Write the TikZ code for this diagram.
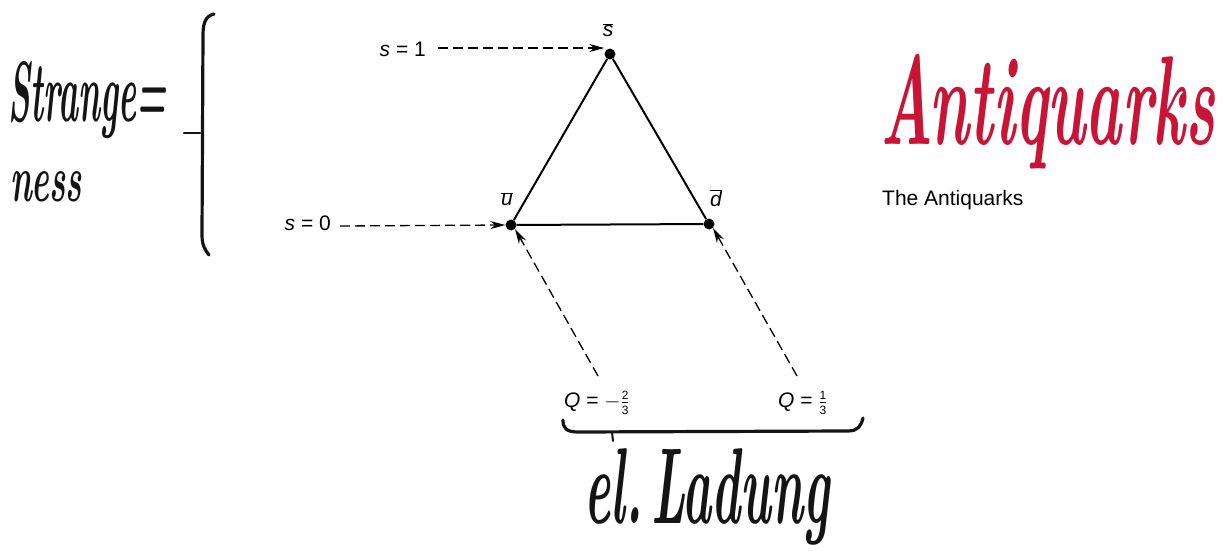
\documentclass[tikz,border=0pt]{standalone}
\usepackage{fontspec}
\usepackage{graphicx}
\setsansfont{Liberation Sans}
\usetikzlibrary{arrows.meta}
\definecolor{hand}{RGB}{20,20,20}
\definecolor{redhand}{RGB}{200,20,55}
\newcommand{\fracdig}[1]{\mbox{\sffamily\fontsize{12}{12}\selectfont #1}}
\tikzset{
  lbl/.style={font=\sffamily\fontsize{21}{24}\selectfont, inner sep=0pt},
  dot/.style={circle, fill=black, minimum size=11pt, inner sep=0pt},
  dasharrow/.style={dashed, dash pattern=on 10pt off 5pt, line width=1.3pt, -{Stealth[length=15pt,width=8pt]}},
  edge/.style={line width=2pt},
  handw/.style={inner sep=0pt, text=hand, font=\bfseries\itshape},
  pen/.style={line width=3.2pt, hand, line cap=round, line join=round}
}
\begin{document}
\begin{tikzpicture}[x=1pt,y=-1pt]
\useasboundingbox (0,0) rectangle (1224,551);
% triangle vertices
\node[dot] (sb) at (610,54) {};
\node[dot] (ub) at (511,225) {};
\node[dot] (db) at (709,224) {};
\draw[edge] (sb) -- (ub) -- (db) -- (sb);
% vertex labels
\node[lbl] (lsb) at (608,30) {$\overline{\mbox{\sffamily\itshape s}}$};
\node[lbl] (lub) at (507,199) {$\overline{\mbox{\sffamily\itshape u}}$};
\node[lbl] (ldb) at (716,198) {$\overline{\mbox{\sffamily\itshape d}}$};
% strangeness labels
\node[lbl, anchor=east] (s1) at (426,49) {\itshape s\upshape\ = 1};
\node[lbl, anchor=east] (s0) at (331,223) {\itshape s\upshape\ = 0};
\draw[dasharrow] (s1.east) ++(12,-1) coordinate (s1a) (s1a) -- (sb.west |- s1a) ;
\draw[dasharrow] (s0.east) ++(9,3) coordinate (s0a) (s0a) -- (ub.west);
% charge labels
\node[lbl, anchor=west] (q1) at (564,403) {\itshape Q\upshape\ = $-\frac{\fracdig{2}}{\fracdig{3}}$};
\node[lbl, anchor=west] (q2) at (778,403) {\itshape Q\upshape\ = $\frac{\fracdig{1}}{\fracdig{3}}$};
\coordinate (q1t) at (598,376);
\coordinate (q2t) at (797,376);
\draw[dasharrow] (q1t) -- (ub.south east);
\draw[dasharrow] (q2t) -- (db.south east);
% brace under charges
\draw[pen] (563,420) .. controls (563,428) and (566,432) .. (578,432) -- (848,431) .. controls (858,431) and (861,426) .. (863,418);
\draw[pen, line width=2pt] (612,432) -- (613,441);
\node[handw, anchor=center] (lad) at (707,497) {\resizebox{245pt}{75pt}{el.\,Ladung}};
% strangeness bracket
\draw[pen] (214,14) .. controls (206,16) and (203,22) .. (203,35) -- (202,235) .. controls (202,245) and (205,250) .. (209,255);
\draw[pen, line width=2.5pt] (184,133) -- (200,133);
\node[handw, anchor=west] (str) at (8,100) {\resizebox{158pt}{60pt}{Strange=}};
\node[handw, anchor=west] (ness) at (10,187) {\resizebox{72pt}{30pt}{ness}};
% antiquarks
\node[handw, text=redhand, anchor=west] (anti) at (880,112) {\resizebox{335pt}{90pt}{Antiquarks}};
\node[lbl, anchor=west] (title) at (882,200) {The Antiquarks};
\end{tikzpicture}
\end{document}
